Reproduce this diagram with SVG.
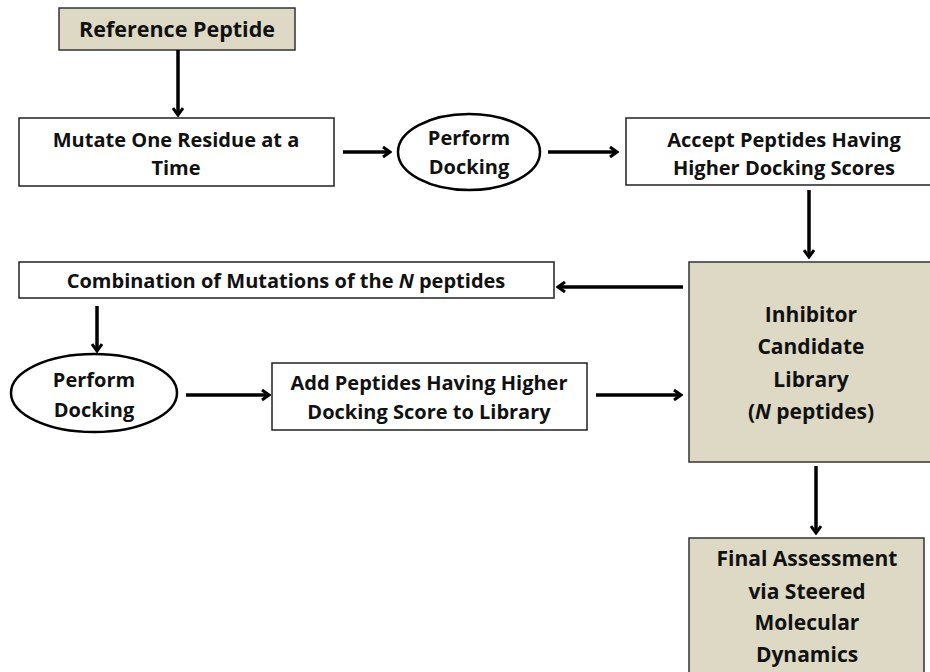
<svg xmlns="http://www.w3.org/2000/svg" width="930" height="672" viewBox="0 0 930 672">
<defs>
<marker id="ah" markerWidth="10" markerHeight="12" refX="8" refY="6" orient="auto" markerUnits="userSpaceOnUse">
<path d="M1,1 L8,6 L1,11" fill="none" stroke="#000" stroke-width="3"/>
</marker>
<style>
.box{fill:#fff;stroke:#222;stroke-width:1.5}
.tan{fill:#ddd9c4;stroke:#333;stroke-width:1.5}
.ell{fill:#fff;stroke:#000;stroke-width:2.5}
text{font-family:"Open Sans",Lato,"Liberation Sans",sans-serif;font-weight:bold;font-size:20px;fill:#111;text-anchor:middle}
.big{font-size:21px}
.c line{stroke:#000;stroke-width:3.5;marker-end:url(#ah)}
</style>
</defs>
<rect width="930" height="672" fill="#fff"/>
<g id="ref"><rect class="tan" x="59" y="8" width="236" height="42"/><text x="177" y="37" style="font-size:21.5px">Reference Peptide</text></g>
<g id="mutate"><rect class="box" x="19" y="118" width="315" height="68"/><text x="176" y="147">Mutate One Residue at a</text><text x="176" y="175">Time</text></g>
<g id="dock1"><ellipse class="ell" cx="469" cy="152" rx="71" ry="38"/><text x="469" y="145">Perform</text><text x="469" y="174">Docking</text></g>
<g id="accept"><rect class="box" x="626" y="118" width="320" height="67"/><text x="784" y="147">Accept Peptides Having</text><text x="784" y="175">Higher Docking Scores</text></g>
<g id="library"><rect class="tan" x="689" y="262" width="250" height="200"/><text class="big" x="811" y="322">Inhibitor</text><text class="big" x="811" y="354">Candidate</text><text class="big" x="811" y="387">Library</text><text class="big" x="811" y="419">(<tspan font-style="italic">N</tspan> peptides)</text></g>
<g id="combo"><rect class="box" x="19" y="262" width="535" height="36"/><text x="286" y="288">Combination of Mutations of the <tspan font-style="italic">N</tspan> peptides</text></g>
<g id="dock2"><ellipse class="ell" cx="94" cy="393" rx="83" ry="39"/><text x="94" y="387">Perform</text><text x="94" y="417">Docking</text></g>
<g id="add"><rect class="box" x="272" y="363" width="315" height="67"/><text x="429" y="390">Add Peptides Having Higher</text><text x="429" y="419">Docking Score to Library</text></g>
<g id="final"><rect class="tan" x="689" y="538" width="235" height="140"/><text class="big" x="807" y="566">Final Assessment</text><text class="big" x="807" y="599">via Steered</text><text class="big" x="807" y="630">Molecular</text><text class="big" x="807" y="662">Dynamics</text></g>
<g class="c" id="connectors">
<line x1="178" y1="50" x2="178" y2="115"/>
<line x1="343" y1="152" x2="390" y2="152"/>
<line x1="548" y1="152" x2="617" y2="152"/>
<line x1="809" y1="190" x2="809" y2="257"/>
<line x1="683" y1="287" x2="558" y2="287"/>
<line x1="97" y1="306" x2="97" y2="351"/>
<line x1="186" y1="395" x2="269" y2="395"/>
<line x1="596" y1="395" x2="681" y2="395"/>
<line x1="816" y1="466" x2="816" y2="533"/>
</g>
</svg>
